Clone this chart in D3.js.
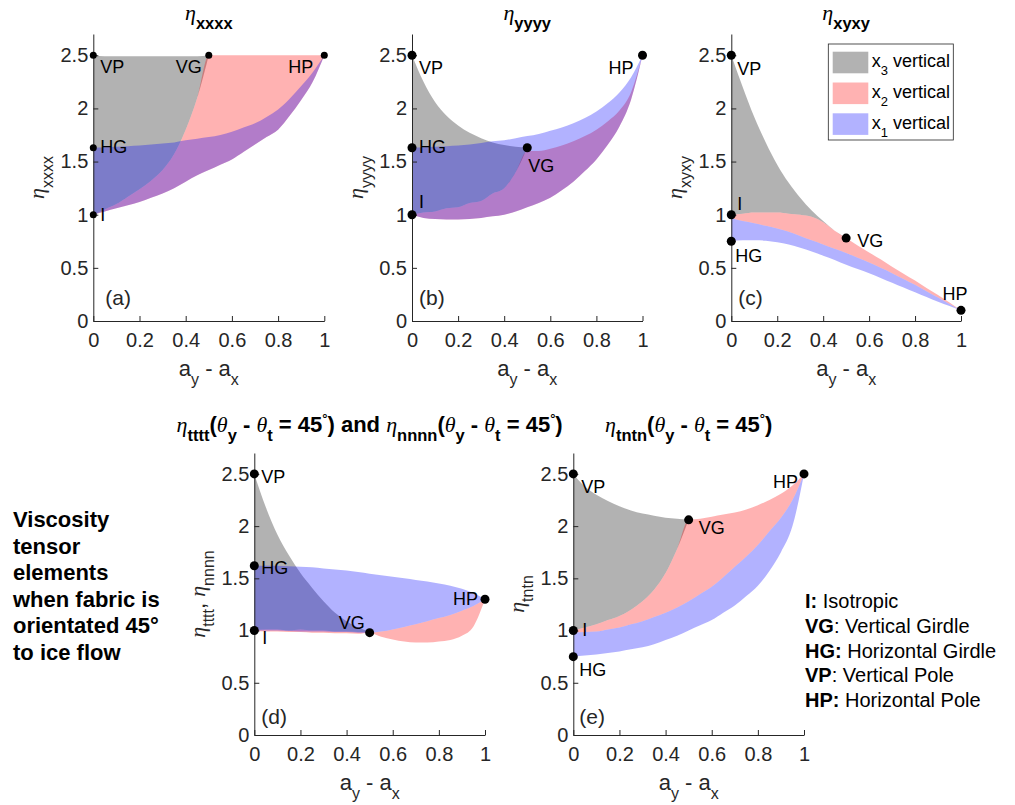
<!DOCTYPE html>
<html>
<head>
<meta charset="utf-8">
<style>
  body { margin: 0; background: #fff; }
  text { white-space: pre; }
</style>
</head>
<body>
<script src="https://d3js.org/d3.v7.min.js"></script>
<script>
// ---- data ----
var xHalf = [0, 0.05, 0.1, 0.15, 0.2, 0.25, 0.3, 0.35, 0.4, 0.45, 0.5];
var xFull = [0, 0.05, 0.1, 0.15, 0.2, 0.25, 0.3, 0.35, 0.4, 0.45, 0.5,
             0.55, 0.6, 0.65, 0.7, 0.75, 0.8, 0.85, 0.9, 0.95, 1];
var xTicks = [0, 0.2, 0.4, 0.6, 0.8, 1];
var yTicks = [0, 0.5, 1, 1.5, 2, 2.5];

// (a) eta_xxxx
var aGrayHi = [2.5, 2.49, 2.49, 2.49, 2.49, 2.49, 2.49, 2.49, 2.49, 2.49, 2.5];
var aGrayLo = [1.0, 1.05, 1.1, 1.17, 1.24, 1.32, 1.42, 1.57, 1.8, 2.1, 2.5];
var aPinkHi = [1.0, 1.05, 1.1, 1.17, 1.24, 1.32, 1.42, 1.57, 1.8, 2.1, 2.5, 2.5, 2.5, 2.5, 2.5, 2.5, 2.5, 2.5, 2.5, 2.5, 2.5];
var aPinkLo = [1.0, 1.03, 1.06, 1.09, 1.12, 1.16, 1.2, 1.25, 1.31, 1.37, 1.42, 1.47, 1.52, 1.59, 1.66, 1.73, 1.8, 1.93, 2.08, 2.25, 2.5];
var aBlueHi = [1.63, 1.635, 1.64, 1.645, 1.65, 1.66, 1.67, 1.68, 1.7, 1.715, 1.73, 1.75, 1.78, 1.82, 1.86, 1.92, 1.99, 2.09, 2.21, 2.34, 2.5];
var aBlueLo = [1.0, 1.03, 1.06, 1.09, 1.12, 1.16, 1.2, 1.25, 1.31, 1.37, 1.42, 1.47, 1.52, 1.59, 1.66, 1.73, 1.8, 1.93, 2.08, 2.25, 2.5];
var aPts = [{n: "VP", x: 0, y: 2.5}, {n: "VG", x: 0.5, y: 2.5}, {n: "HP", x: 1, y: 2.5}, {n: "HG", x: 0, y: 1.63}, {n: "I", x: 0, y: 1}];

// (b) eta_yyyy
var bGrayHi = [2.5, 2.25, 2.06, 1.93, 1.84, 1.77, 1.72, 1.68, 1.655, 1.64, 1.63];
var bGrayLo = [1.0, 1.02, 1.03, 1.06, 1.07, 1.11, 1.13, 1.2, 1.25, 1.4, 1.63];
var bPinkHi = [1.0, 1.02, 1.03, 1.06, 1.07, 1.11, 1.13, 1.2, 1.25, 1.4, 1.6, 1.6, 1.62, 1.65, 1.69, 1.74, 1.8, 1.88, 1.98, 2.15, 2.5];
var bPinkLo = [1.0, 0.97, 0.96, 0.955, 0.955, 0.96, 0.97, 0.985, 1.0, 1.03, 1.07, 1.11, 1.16, 1.23, 1.31, 1.41, 1.52, 1.66, 1.83, 2.08, 2.5];
var bBlueHi = [1.63, 1.635, 1.64, 1.645, 1.65, 1.66, 1.675, 1.69, 1.7, 1.72, 1.74, 1.76, 1.79, 1.82, 1.86, 1.91, 1.97, 2.05, 2.15, 2.29, 2.5];
var bBlueLo = [1.0, 0.97, 0.96, 0.955, 0.955, 0.96, 0.97, 0.985, 1.0, 1.03, 1.07, 1.11, 1.16, 1.23, 1.31, 1.41, 1.52, 1.66, 1.83, 2.08, 2.5];
var bPts = [{n: "VP", x: 0, y: 2.5}, {n: "HP", x: 1, y: 2.5}, {n: "HG", x: 0, y: 1.63}, {n: "VG", x: 0.5, y: 1.63}, {n: "I", x: 0, y: 1}];

// (c) eta_xyxy
var cGrayHi = [2.5, 2.2, 1.92, 1.68, 1.47, 1.3, 1.16, 1.04, 0.94, 0.85, 0.78];
var cGrayLo = [1.0, 1.01, 1.02, 1.02, 1.02, 1.01, 1.0, 0.98, 0.93, 0.85, 0.78];
var cPinkHi = [1.0, 1.01, 1.02, 1.02, 1.02, 1.01, 1.0, 0.98, 0.93, 0.85, 0.78, 0.71, 0.645, 0.58, 0.51, 0.445, 0.38, 0.31, 0.245, 0.175, 0.1];
var cPinkLo = [0.97, 0.94, 0.92, 0.895, 0.87, 0.84, 0.8, 0.76, 0.72, 0.68, 0.64, 0.595, 0.55, 0.5, 0.45, 0.395, 0.34, 0.28, 0.22, 0.16, 0.1];
var cBlueHi = [0.97, 0.94, 0.92, 0.895, 0.87, 0.84, 0.8, 0.76, 0.72, 0.68, 0.64, 0.595, 0.55, 0.5, 0.45, 0.395, 0.34, 0.28, 0.22, 0.16, 0.1];
var cBlueLo = [0.75, 0.76, 0.76, 0.755, 0.74, 0.72, 0.69, 0.655, 0.615, 0.575, 0.53, 0.49, 0.45, 0.405, 0.36, 0.315, 0.27, 0.225, 0.18, 0.14, 0.1];
var cPts = [{n: "VP", x: 0, y: 2.5}, {n: "I", x: 0, y: 1}, {n: "HG", x: 0, y: 0.75}, {n: "VG", x: 0.5, y: 0.78}, {n: "HP", x: 1, y: 0.1}];

// (d) eta_tttt and eta_nnnn
var dGrayHi = [2.5, 2.18, 1.92, 1.72, 1.55, 1.41, 1.28, 1.17, 1.09, 1.03, 0.99];
var dGrayLo = [1.0, 1.01, 1.01, 1.0, 1.01, 1.0, 1.0, 0.99, 0.99, 0.985, 0.98];
var dPinkHi = [1.0, 1.01, 1.01, 1.0, 1.01, 1.0, 1.0, 0.99, 0.99, 0.985, 0.98, 0.99, 1.01, 1.035, 1.06, 1.09, 1.12, 1.15, 1.19, 1.235, 1.3];
var dPinkLo = [1.0, 0.99, 0.99, 0.985, 0.985, 0.98, 0.98, 0.975, 0.975, 0.97, 0.98, 0.94, 0.915, 0.895, 0.885, 0.885, 0.895, 0.91, 0.95, 1.04, 1.3];
var dBlueHi = [1.62, 1.62, 1.62, 1.615, 1.61, 1.605, 1.595, 1.585, 1.575, 1.56, 1.545, 1.53, 1.515, 1.5, 1.485, 1.47, 1.45, 1.43, 1.4, 1.36, 1.3];
var dBlueLo = [1.0, 1.0, 1.0, 0.995, 0.99, 0.99, 0.99, 0.985, 0.985, 0.98, 0.98, 0.99, 1.01, 1.035, 1.06, 1.09, 1.12, 1.15, 1.19, 1.235, 1.3];
var dPts = [{n: "VP", x: 0, y: 2.5}, {n: "HG", x: 0, y: 1.62}, {n: "I", x: 0, y: 1}, {n: "VG", x: 0.5, y: 0.98}, {n: "HP", x: 1, y: 1.3}];

// (e) eta_tntn
var eGrayHi = [2.5, 2.38, 2.3, 2.24, 2.19, 2.15, 2.12, 2.1, 2.08, 2.07, 2.06];
var eGrayLo = [1.0, 1.03, 1.06, 1.1, 1.14, 1.2, 1.28, 1.39, 1.55, 1.78, 2.06];
var ePinkHi = [1.0, 1.03, 1.06, 1.1, 1.14, 1.2, 1.28, 1.39, 1.55, 1.78, 2.06, 2.07, 2.09, 2.11, 2.13, 2.16, 2.2, 2.25, 2.31, 2.39, 2.5];
var ePinkLo = [0.98, 0.985, 0.99, 1.01, 1.03, 1.06, 1.09, 1.13, 1.17, 1.22, 1.28, 1.35, 1.42, 1.51, 1.61, 1.71, 1.82, 1.95, 2.08, 2.25, 2.5];
var eBlueHi = [0.98, 0.985, 0.99, 1.01, 1.03, 1.06, 1.09, 1.13, 1.17, 1.22, 1.28, 1.35, 1.42, 1.51, 1.61, 1.71, 1.82, 1.95, 2.08, 2.25, 2.5];
var eBlueLo = [0.75, 0.76, 0.77, 0.785, 0.8, 0.82, 0.84, 0.87, 0.91, 0.95, 1.0, 1.05, 1.1, 1.17, 1.24, 1.33, 1.43, 1.57, 1.75, 2.0, 2.5];
var ePts = [{n: "VP", x: 0, y: 2.5}, {n: "HP", x: 1, y: 2.5}, {n: "VG", x: 0.5, y: 2.06}, {n: "I", x: 0, y: 1}, {n: "HG", x: 0, y: 0.75}];

var legendNames = ["3", "2", "1"];
var keyLines = [["I:", " Isotropic"], ["VG", ": Vertical Girdle"], ["HG:", " Horizontal Girdle"], ["VP", ": Vertical Pole"], ["HP:", " Horizontal Pole"]];
var sideLines = ["Viscosity", "tensor", "elements", "when fabric is", "orientated 45\u00b0", "to ice flow"];

// ---- drawing ----
var SANS = "'Liberation Sans', Arial, Helvetica, sans-serif";
var SERIF = "'Liberation Serif', 'DejaVu Serif', serif";
var INK = "#262626";
var fills = {gray: "#000000", pink: "#ff0000", blue: "#0000ff"};

var svg = d3.select("body").append("svg")
  .attr("width", 1015)
  .attr("height", 805)
  .attr("font-family", SANS);

// text with sub/superscripts and greek letters
function rich(sel, parts, o) {
  var cur = 0;
  parts.forEach(function(p) {
    var sh = p.s === "sub" ? o.sub : p.s === "sup" ? -o.sup : 0;
    var ts = sel.append("tspan").attr("dy", sh - cur).text(p.t);
    cur = sh;
    if (p.g) ts.attr("font-family", SERIF).attr("font-style", "italic").attr("font-weight", "normal");
    if (p.s) ts.attr("font-size", p.s === "sup" ? o.supSize : o.small);
  });
}

var eta = {t: "\u03b7", g: 1}, theta = {t: "\u03b8", g: 1};
function angle() {
  return [{t: "("}, theta, {t: "y", s: "sub"}, {t: " - "}, theta, {t: "t", s: "sub"},
    {t: " = 45"}, {t: "\u00b0", s: "sup"}, {t: ")"}];
}

var rowTop = {yb: 321, yt: 34, titleY: 20, letterY: 305};
var rowBot = {yb: 735, yt: 453, titleY: 432, letterY: 724};

var panels = [
  {row: rowTop, x0: 93.3, x1: 324.3, r: 3.5, letter: "(a)", ldx: 12,
   gray: [aGrayLo, aGrayHi], pink: [aPinkLo, aPinkHi], blue: [aBlueLo, aBlueHi], pts: aPts,
   title: [eta, {t: "xxxx", s: "sub"}],
   ylab: [eta, {t: "xxxx", s: "sub"}],
   lab: {VP: [7, 18, "start"], VG: [-7, 18, "end"], HP: [-11, 18, "end"], HG: [7, 5, "start"], I: [7, 6, "start"]}},
  {row: rowTop, x0: 412, x1: 642.5, r: 4.5, letter: "(b)", ldx: 7,
   gray: [bGrayLo, bGrayHi], pink: [bPinkLo, bPinkHi], blue: [bBlueLo, bBlueHi], pts: bPts,
   title: [eta, {t: "yyyy", s: "sub"}],
   ylab: [eta, {t: "yyyy", s: "sub"}],
   lab: {VP: [7, 19, "start"], HP: [-9, 19, "end"], HG: [7, 5, "start"], I: [7, -7, "start"], VG: [1, 24, "start"]}},
  {row: rowTop, x0: 731.3, x1: 961, r: 4.5, letter: "(c)", ldx: 7, legend: true,
   gray: [cGrayLo, cGrayHi], pink: [cPinkLo, cPinkHi], blue: [cBlueLo, cBlueHi], pts: cPts,
   title: [eta, {t: "xyxy", s: "sub"}],
   ylab: [eta, {t: "xyxy", s: "sub"}],
   lab: {VP: [6, 20, "start"], I: [6, -5, "start"], HG: [4, 21, "start"], VG: [11, 9, "start"], HP: [-6, -10, "middle"]}},
  {row: rowBot, x0: 254.3, x1: 485, r: 4.5, letter: "(d)", ldx: 7,
   gray: [dGrayLo, dGrayHi], pink: [dPinkLo, dPinkHi], blue: [dBlueLo, dBlueHi], pts: dPts,
   title: [eta, {t: "tttt", s: "sub"}].concat(angle(), [{t: " and "}, eta, {t: "nnnn", s: "sub"}], angle()),
   ylab: [eta, {t: "tttt", s: "sub"}, {t: ", "}, eta, {t: "nnnn", s: "sub"}],
   lab: {VP: [7, 9, "start"], HG: [7, 8, "start"], I: [8, 13, "start"], VG: [-5, -4, "end"], HP: [-7, 6, "end"]}},
  {row: rowBot, x0: 573.3, x1: 804, r: 4.5, letter: "(e)", ldx: 6,
   gray: [eGrayLo, eGrayHi], pink: [ePinkLo, ePinkHi], blue: [eBlueLo, eBlueHi], pts: ePts,
   title: [eta, {t: "tntn", s: "sub"}].concat(angle()),
   ylab: [eta, {t: "tntn", s: "sub"}],
   lab: {VP: [8, 19, "start"], HP: [-6, 14, "end"], VG: [10, 14, "start"], I: [9, 5, "start"], HG: [6, 19, "start"]}}
];

panels.forEach(function(p) {
  var x = d3.scaleLinear().domain([0, 1]).range([p.x0, p.x1]);
  var y = d3.scaleLinear().domain([0, 2.7]).range([p.row.yb, p.row.yt]);
  var g = svg.append("g");

  var area = d3.area()
    .x(function(d) { return x(d.x); })
    .y0(function(d) { return y(d.lo); })
    .y1(function(d) { return y(d.hi); })
    .curve(d3.curveMonotoneX);

  ["gray", "pink", "blue"].forEach(function(k) {
    var xs = p[k][0].length === xHalf.length ? xHalf : xFull;
    var rows = xs.map(function(v, i) { return {x: v, lo: p[k][0][i], hi: p[k][1][i]}; });
    g.append("path")
      .attr("d", area(rows))
      .attr("fill", fills[k])
      .attr("fill-opacity", 0.3);
  });

  // axes, ticks pointing inward
  var fmt = d3.format("~g");
  var ax = g.append("g")
    .attr("transform", "translate(0," + p.row.yb + ")")
    .call(d3.axisBottom(x).tickValues(xTicks).tickFormat(fmt).tickSizeInner(-5).tickSizeOuter(0).tickPadding(12));
  var ay = g.append("g")
    .attr("transform", "translate(" + p.x0 + ",0)")
    .call(d3.axisLeft(y).tickValues(yTicks).tickFormat(fmt).tickSizeInner(-5).tickSizeOuter(0).tickPadding(5));
  [ax, ay].forEach(function(a) {
    a.attr("font-family", SANS).attr("font-size", 20);
    a.selectAll("path, line").attr("stroke", INK);
    a.selectAll("text").attr("fill", INK);
  });

  // points and their labels
  p.pts.forEach(function(pt) {
    g.append("circle")
      .attr("cx", x(pt.x))
      .attr("cy", y(pt.y))
      .attr("r", p.r)
      .attr("fill", "#000");
    var o = p.lab[pt.n];
    g.append("text")
      .attr("x", x(pt.x) + o[0])
      .attr("y", y(pt.y) + o[1])
      .attr("text-anchor", o[2])
      .attr("font-size", 18)
      .attr("fill", "#000")
      .text(pt.n);
  });

  g.append("text")
    .attr("x", p.x0 + p.ldx)
    .attr("y", p.row.letterY)
    .attr("font-size", 21)
    .attr("fill", INK)
    .text(p.letter);

  // title
  var t = g.append("text")
    .attr("x", (p.x0 + p.x1) / 2)
    .attr("y", p.row.titleY)
    .attr("text-anchor", "middle")
    .attr("font-size", 22)
    .attr("font-weight", "bold")
    .attr("fill", "#000");
  rich(t, p.title, {sub: 9, small: 16.5, sup: 9, supSize: 13});

  // x label
  var xl = g.append("text")
    .attr("x", (p.x0 + p.x1) / 2)
    .attr("y", p.row.yb + 55)
    .attr("text-anchor", "middle")
    .attr("font-size", 22)
    .attr("fill", INK);
  rich(xl, [{t: "a"}, {t: "y", s: "sub"}, {t: " - a"}, {t: "x", s: "sub"}], {sub: 9, small: 16});

  // y label
  var yl = g.append("text")
    .attr("transform", "translate(" + (p.x0 - 49) + "," + ((p.row.yb + p.row.yt) / 2) + ") rotate(-90)")
    .attr("text-anchor", "middle")
    .attr("font-size", 22)
    .attr("fill", INK);
  rich(yl, p.ylab, {sub: 9, small: 16});

  if (p.legend) {
    var lg = g.append("g");
    lg.append("rect")
      .attr("x", 828.3).attr("y", 44).attr("width", 125).attr("height", 96)
      .attr("fill", "#fff").attr("stroke", INK).attr("stroke-width", 0.8);
    ["gray", "pink", "blue"].forEach(function(k, i) {
      lg.append("rect")
        .attr("x", 832.7).attr("y", 51.7 + i * 30.8)
        .attr("width", 35.6).attr("height", 21.6)
        .attr("fill", fills[k]).attr("fill-opacity", 0.3);
      var lt = lg.append("text")
        .attr("x", 871.7).attr("y", 67 + i * 30.8)
        .attr("font-size", 18).attr("fill", "#000");
      rich(lt, [{t: "x"}, {t: legendNames[i], s: "sub"}, {t: " vertical"}], {sub: 8, small: 13});
    });
  }
});

// side note on the left
svg.append("g").selectAll("text")
  .data(sideLines)
  .join("text")
  .attr("x", 13)
  .attr("y", function(d, i) { return 527 + i * 26.6; })
  .attr("font-size", 22)
  .attr("font-weight", "bold")
  .attr("fill", "#000")
  .text(function(d) { return d; });

// key for point labels
var key = svg.append("g").selectAll("text")
  .data(keyLines)
  .join("text")
  .attr("x", 805)
  .attr("y", function(d, i) { return 608 + i * 24.75; })
  .attr("font-size", 20)
  .attr("fill", "#000");
key.append("tspan").attr("font-weight", "bold").text(function(d) { return d[0]; });
key.append("tspan").text(function(d) { return d[1]; });
</script>
</body>
</html>
